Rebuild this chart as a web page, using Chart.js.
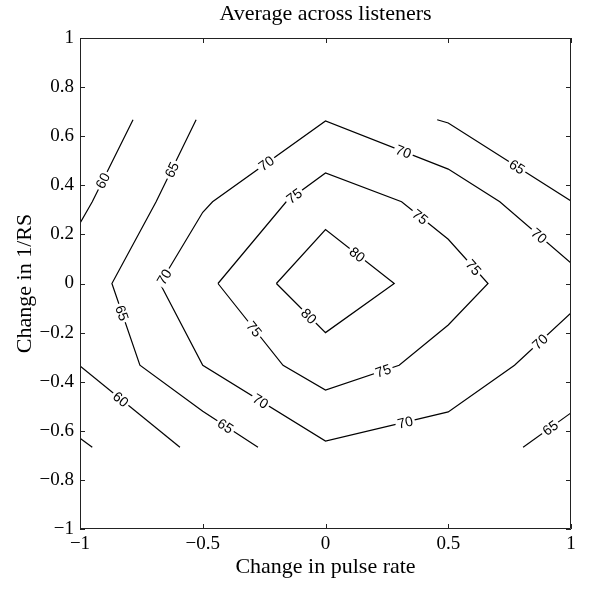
<!DOCTYPE html>
<html>
<head>
<meta charset="utf-8">
<script src="https://cdn.jsdelivr.net/npm/chart.js@4.4.1/dist/chart.umd.min.js"></script>
<style>
  body { margin: 0; background: #fff; }
  canvas { display: block; }
</style>
</head>
<body>
<canvas id="grafico" width="600" height="593"></canvas>
<script>
// contour lines, [pulse rate, 1/RS]
const line55 = [[-1, -0.63], [-0.95, -0.667]];
const line60a = [[-1, 0.246], [-0.95, 0.333], [-0.784, 0.667]];
const line60b = [[-1, -0.336], [-0.593, -0.667]];
const line65a = [[-0.527, 0.667], [-0.69, 0.333], [-0.87, 0], [-0.756, -0.333], [-0.5, -0.52], [-0.275, -0.667]];
const line65b = [[0.455, 0.667], [0.5, 0.654], [1, 0.336]];
const line65c = [[0.805, -0.667], [1, -0.527]];
const line70 = [[1, 0.083], [0.71, 0.333], [0.5, 0.466], [0, 0.662], [-0.46, 0.333], [-0.5, 0.29], [-0.674, 0],
  [-0.5, -0.333], [0, -0.642], [0.5, -0.523], [0.77, -0.333], [1, -0.12]];
const line75 = [[-0.438, 0], [-0.16, 0.333], [0, 0.45], [0.31, 0.333], [0.5, 0.18], [0.662, 0], [0.5, -0.169],
  [0.3, -0.333], [0, -0.434], [-0.173, -0.333], [-0.438, 0]];
const line80 = [[-0.2, 0], [0, 0.22], [0.28, 0], [0, -0.2], [-0.2, 0]];

const contourLines = [
  { level: 55, pts: line55 },
  { level: 60, pts: line60a },
  { level: 60, pts: line60b },
  { level: 65, pts: line65a },
  { level: 65, pts: line65b },
  { level: 65, pts: line65c },
  { level: 70, pts: line70 },
  { level: 75, pts: line75 },
  { level: 80, pts: line80 }
];

// where the level labels sit
const labels60 = [[-0.91, 0.42], [-0.837, -0.475]];
const labels65 = [[-0.64, 0.47], [-0.829, -0.12], [-0.41, -0.585], [0.78, 0.475], [0.915, -0.588]];
const labels70 = [[-0.655, 0.025], [-0.242, 0.49], [0.316, 0.532], [0.866, 0.19], [0.874, -0.238], [0.324, -0.564], [-0.267, -0.483]];
const labels75 = [[-0.13, 0.36], [0.385, 0.271], [0.6, 0.063], [0.234, -0.352], [-0.295, -0.189]];
const labels80 = [[0.128, 0.116], [-0.075, -0.14]];

const contourLabels = [
  { level: 60, pos: labels60 },
  { level: 65, pos: labels65 },
  { level: 70, pos: labels70 },
  { level: 75, pos: labels75 },
  { level: 80, pos: labels80 }
];

const xTicks = [-1, -0.5, 0, 0.5, 1];
const yTicks = [-1, -0.8, -0.6, -0.4, -0.2, 0, 0.2, 0.4, 0.6, 0.8, 1];

const titulo = 'Average across listeners';
const serif = '"Liberation Serif", "Times New Roman", serif';

function fmt(v) {
  const r = Math.round(v * 10) / 10;
  return String(r).replace('-', '\u2212');
}

// frame with inward ticks on all four sides, title over the plot area
const moldura = {
  id: 'moldura',
  afterDraw(chart) {
    const { ctx, chartArea: a, scales: { x, y } } = chart;
    ctx.save();
    ctx.strokeStyle = '#222';
    ctx.lineWidth = 1;
    ctx.beginPath();
    ctx.rect(a.left + 0.5, a.top + 0.5, a.right - a.left - 1, a.bottom - a.top - 1);
    const tl = 5;
    xTicks.forEach(v => {
      const px = Math.round(x.getPixelForValue(v)) + 0.5;
      ctx.moveTo(px, a.bottom); ctx.lineTo(px, a.bottom - tl);
      ctx.moveTo(px, a.top); ctx.lineTo(px, a.top + tl);
    });
    yTicks.forEach(v => {
      const py = Math.round(y.getPixelForValue(v)) + 0.5;
      ctx.moveTo(a.left, py); ctx.lineTo(a.left + tl, py);
      ctx.moveTo(a.right, py); ctx.lineTo(a.right - tl, py);
    });
    ctx.stroke();

    ctx.fillStyle = '#000';
    ctx.font = '22px ' + serif;
    ctx.textAlign = 'center';
    ctx.textBaseline = 'middle';
    ctx.fillText(titulo, (a.left + a.right) / 2, 14);
    ctx.restore();
  }
};

// level labels drawn along the nearest segment, with a gap in the line
const rotulos = {
  id: 'rotulos',
  afterDatasetsDraw(chart) {
    const { ctx, scales: { x, y } } = chart;
    ctx.save();
    ctx.font = '14px "Liberation Sans", Arial, sans-serif';
    ctx.textAlign = 'center';
    ctx.textBaseline = 'middle';
    contourLabels.forEach(grupo => {
      const linhas = contourLines.filter(c => c.level === grupo.level);
      grupo.pos.forEach(([lx, ly]) => {
        const qx = x.getPixelForValue(lx), qy = y.getPixelForValue(ly);
        let best = null;
        linhas.forEach(c => {
          for (let i = 0; i < c.pts.length - 1; i++) {
            const ax = x.getPixelForValue(c.pts[i][0]), ay = y.getPixelForValue(c.pts[i][1]);
            const bx = x.getPixelForValue(c.pts[i + 1][0]), by = y.getPixelForValue(c.pts[i + 1][1]);
            const dx = bx - ax, dy = by - ay;
            let t = ((qx - ax) * dx + (qy - ay) * dy) / (dx * dx + dy * dy);
            t = Math.max(0, Math.min(1, t));
            const px = ax + t * dx, py = ay + t * dy;
            const d = Math.hypot(qx - px, qy - py);
            if (!best || d < best.d) best = { d, px, py, ang: Math.atan2(dy, dx) };
          }
        });
        let ang = best.ang;
        if (ang > Math.PI / 2) ang -= Math.PI;
        if (ang < -Math.PI / 2) ang += Math.PI;
        const txt = String(grupo.level);
        const w = ctx.measureText(txt).width;
        ctx.save();
        ctx.translate(best.px, best.py);
        ctx.rotate(ang);
        ctx.fillStyle = '#fff';
        ctx.fillRect(-w / 2 - 2, -6, w + 4, 12);
        ctx.fillStyle = '#000';
        ctx.fillText(txt, 0, 1);
        ctx.restore();
      });
    });
    ctx.restore();
  }
};

const ctx = document.getElementById('grafico').getContext('2d');

const grafico = new Chart(ctx, {
  type: 'scatter',
  data: {
    datasets: contourLines.map(c => ({
      label: String(c.level),
      data: c.pts.map(([px, py]) => ({ x: px, y: py })),
      showLine: true,
      borderColor: '#000',
      borderWidth: 1.2,
      pointRadius: 0,
      fill: false,
      tension: 0
    }))
  },
  options: {
    responsive: false,
    animation: false,
    layout: { padding: { left: 0, right: 29, top: 38, bottom: 0 } },
    plugins: {
      legend: { display: false },
      tooltip: { enabled: false },
      title: { display: false }
    },
    scales: {
      x: {
        type: 'linear',
        min: -1,
        max: 1,
        afterBuildTicks(axis) { axis.ticks = xTicks.map(v => ({ value: v })); },
        afterFit(axis) { axis.height = 64; },
        grid: { display: false, drawTicks: false },
        border: { display: false },
        ticks: {
          color: '#000',
          font: { family: serif, size: 19 },
          padding: 4,
          maxRotation: 0,
          autoSkip: false,
          callback: v => fmt(v)
        },
        title: {
          display: true,
          text: 'Change in pulse rate',
          color: '#000',
          font: { family: serif, size: 22 },
          padding: { top: 0, bottom: 12.8 }
        }
      },
      y: {
        type: 'linear',
        min: -1,
        max: 1,
        afterBuildTicks(axis) { axis.ticks = yTicks.map(v => ({ value: v })); },
        afterFit(axis) { axis.width = 80; },
        grid: { display: false, drawTicks: false },
        border: { display: false },
        ticks: {
          color: '#000',
          font: { family: serif, size: 19 },
          padding: 6,
          autoSkip: false,
          callback: v => fmt(v)
        },
        title: {
          display: true,
          text: 'Change in 1/RS',
          color: '#000',
          font: { family: serif, size: 22 },
          padding: { top: 12, bottom: 0 }
        }
      }
    }
  },
  plugins: [moldura, rotulos]
});
</script>
</body>
</html>
